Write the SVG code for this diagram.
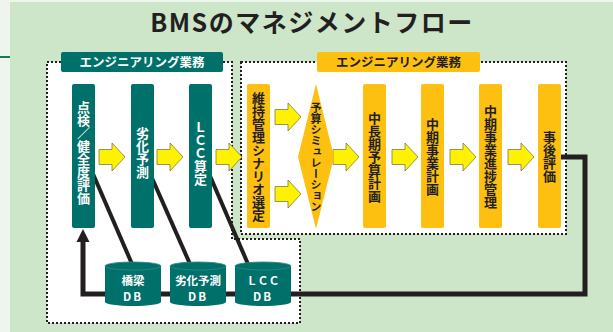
<svg xmlns="http://www.w3.org/2000/svg" width="613" height="332" viewBox="0 0 613 332">
<style>
.jp{font-family:"Noto Sans CJK JP","Noto Sans",sans-serif;font-weight:700}
.vt{writing-mode:vertical-rl;text-anchor:middle;font-size:13px}
.w{fill:#ffffff}
.k{fill:#231f20}
.teal{fill:#00706b}
.yel{fill:#fdc010}
.dot{fill:#ffffff;stroke:#231f20;stroke-width:2;stroke-dasharray:2 2}
.ln{fill:none;stroke:#231f20;stroke-width:5}
.dl{stroke:#231f20;stroke-width:4}
.arr{fill:#fff200;stroke:#7a7a52;stroke-width:0.8}
.db{font-size:11.5px;text-anchor:middle}
</style>
<defs>
<path id="ba" d="M0,-7.5 H13 V-14 L26,0 L13,14 V7.5 H0 Z"/>
<g id="cyl">
<path d="M0,4 V40 A28,4 0 0 0 56,40 V4 Z" fill="#00706b"/>
<ellipse cx="28" cy="4" rx="28" ry="4" fill="#00706b" stroke="#2e8a85" stroke-width="0.8"/>
</g>
</defs>
<rect x="0" y="0" width="613" height="332" fill="#eef5ef"/>
<rect x="10" y="2" width="603" height="330" fill="#cde6c9"/>
<line x1="0" y1="57" x2="10" y2="57" stroke="#1f7a4a" stroke-width="2"/>
<text class="jp k" x="312" y="32" font-size="25" text-anchor="middle" letter-spacing="1.5">BMSのマネジメントフロー</text>

<g id="frames">
<path class="dot" d="M47,62 H232 V239 H300 V323 H47 Z"/>
<rect class="dot" x="241" y="62" width="325" height="172"/>
</g>

<g id="label-left">
<rect class="teal" x="61" y="52" width="162" height="20" rx="2"/>
<text class="jp w" x="142" y="66.5" font-size="12.5" text-anchor="middle">エンジニアリング業務</text>
</g>
<g id="label-right">
<rect class="yel" x="317" y="52" width="163" height="20" rx="2"/>
<text class="jp k" x="398.5" y="66.5" font-size="12.5" text-anchor="middle">エンジニアリング業務</text>
</g>

<g id="connectors">
<line class="dl" x1="90" y1="167" x2="132" y2="264"/>
<line class="dl" x1="148" y1="169" x2="190" y2="264"/>
<line class="dl" x1="207" y1="169" x2="248" y2="264"/>
<path class="ln" d="M561,157 H585 V294 H83 V238"/>
<polygon points="83,229 76.5,242 89.5,242" fill="#231f20"/>
<use href="#ba" class="arr" x="99" y="157"/>
<use href="#ba" class="arr" x="157" y="157"/>
<use href="#ba" class="arr" x="216" y="157"/>
<use href="#ba" class="arr" x="275" y="117"/>
<use href="#ba" class="arr" x="275" y="194"/>
<use href="#ba" class="arr" x="333" y="157"/>
<use href="#ba" class="arr" x="392" y="157"/>
<use href="#ba" class="arr" x="450" y="157"/>
<use href="#ba" class="arr" x="508" y="157"/>
</g>

<g id="n-inspect">
<rect class="teal" x="72" y="84" width="23" height="144" rx="2"/>
<text class="jp w vt" x="83.5" y="153">点検／健全度評価</text>
</g>
<g id="n-deterioration">
<rect class="teal" x="131" y="84" width="23" height="144" rx="2"/>
<text class="jp w vt" x="142.5" y="153">劣化予測</text>
</g>
<g id="n-lcc">
<rect class="teal" x="189" y="84" width="23" height="144" rx="2"/>
<text class="jp w vt" x="200.5" y="153">ＬＣＣ算定</text>
</g>

<g id="n-scenario">
<rect class="yel" x="247" y="84" width="23" height="144" rx="2"/>
<text class="jp k vt" x="258.5" y="157">維持管理シナリオ選定</text>
</g>
<g id="n-simulation">
<polygon class="yel" points="316,84 334,157 316,229 298,157"/>
<text class="jp k vt" x="316" y="157" style="font-size:11px">予算シミュレーション</text>
</g>
<g id="n-midlong">
<rect class="yel" x="363" y="84" width="23" height="144" rx="2"/>
<text class="jp k vt" x="374.5" y="157">中長期予算計画</text>
</g>
<g id="n-midplan">
<rect class="yel" x="421" y="84" width="23" height="144" rx="2"/>
<text class="jp k vt" x="432.5" y="157">中期事業計画</text>
</g>
<g id="n-progress">
<rect class="yel" x="479" y="84" width="23" height="144" rx="2"/>
<text class="jp k vt" x="490.5" y="157">中期事業進捗管理</text>
</g>
<g id="n-post">
<rect class="yel" x="538" y="84" width="23" height="144" rx="2"/>
<text class="jp k vt" x="549.5" y="157">事後評価</text>
</g>

<g id="db-bridge">
<use href="#cyl" x="105" y="262"/>
<text class="jp w db" x="133" y="285">橋梁</text>
<text class="jp w db" x="133" y="301" letter-spacing="2">DB</text>
</g>
<g id="db-deterioration">
<use href="#cyl" x="170" y="262"/>
<text class="jp w db" x="198" y="285">劣化予測</text>
<text class="jp w db" x="198" y="301" letter-spacing="2">DB</text>
</g>
<g id="db-lcc">
<use href="#cyl" x="235" y="262"/>
<text class="jp w db" x="263" y="285" style="font-size:11px">ＬＣＣ</text>
<text class="jp w db" x="263" y="301" letter-spacing="2">DB</text>
</g>
</svg>
